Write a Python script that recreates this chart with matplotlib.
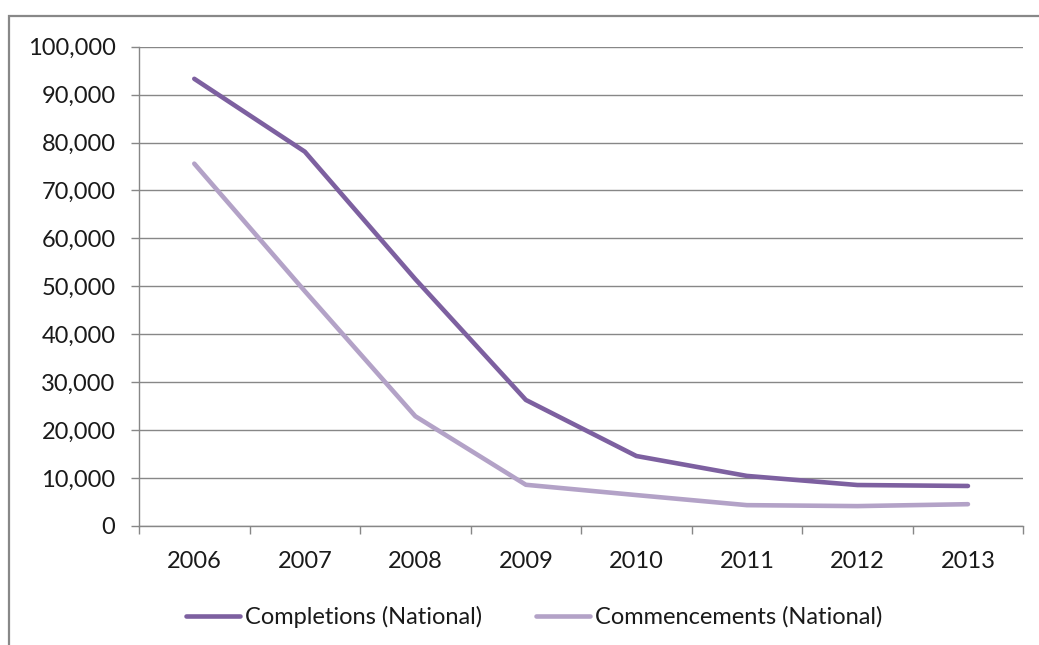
import matplotlib
matplotlib.use("Agg")
import matplotlib.pyplot as plt
from matplotlib.ticker import FuncFormatter, FixedLocator
from matplotlib.patches import Rectangle

plt.rcParams['font.family'] = ['Lato', 'DejaVu Sans']

# data
years = ['2006', '2007', '2008', '2009', '2010', '2011', '2012', '2013']
completions = [93300, 78100, 51500, 26300, 14600, 10450, 8550, 8350]
commencements = [75600, 49000, 22900, 8600, 6450, 4350, 4150, 4550]

dark = '#7d60a0'
light = '#b3a2c7'
grey = '#878787'

fig = plt.figure(figsize=(10.39, 6.45), dpi=100)
ax = fig.add_axes([0.1338, 0.1845, 0.851, 0.7431])

x = list(range(len(years)))
ax.plot(x, completions, color=dark, lw=3.3, solid_capstyle='round',
        solid_joinstyle='round', label='Completions (National)')
ax.plot(x, commencements, color=light, lw=3.3, solid_capstyle='round',
        solid_joinstyle='round', label='Commencements (National)')

ax.set_xlim(-0.5, len(years) - 0.5)
ax.set_ylim(0, 100000)
ax.set_yticks(range(0, 100001, 10000))
ax.yaxis.set_major_formatter(FuncFormatter(lambda v, p: f'{int(v):,}'))
ax.grid(axis='y', color=grey, lw=1)
ax.set_axisbelow(True)

# category boundaries as tick marks, labels at centers
ax.xaxis.set_major_locator(FixedLocator([i - 0.5 for i in range(len(years) + 1)]))
ax.xaxis.set_major_formatter(FuncFormatter(lambda v, p: ''))
ax.xaxis.set_minor_locator(FixedLocator(x))
ax.set_xticklabels(years, minor=True)
ax.tick_params(axis='x', which='major', length=6, color=grey, width=1, direction='out')
ax.tick_params(axis='x', which='minor', length=0, pad=18, labelsize=17, labelcolor='#1a1a1a')
ax.tick_params(axis='y', length=6, color=grey, width=1, pad=11, labelsize=17, labelcolor='#1a1a1a')

for s in ['top', 'right']:
    ax.spines[s].set_visible(False)
for s in ['left', 'bottom']:
    ax.spines[s].set_color(grey)
    ax.spines[s].set_linewidth(1)

fig.legend(loc='center', bbox_to_anchor=(0.514, 0.0434), ncol=2, frameon=False,
           fontsize=17, handlelength=2.3, handletextpad=0.2, columnspacing=2.3,
           labelcolor='#1a1a1a')

# outer chart border (cut off at right and bottom)
fig.patches.append(Rectangle((9 / 1039, -0.05), 1.1, (645 - 16) / 645 + 0.05,
                             transform=fig.transFigure, fill=False,
                             edgecolor='#888888', lw=1.6))

fig.savefig('out.png', dpi=100)
